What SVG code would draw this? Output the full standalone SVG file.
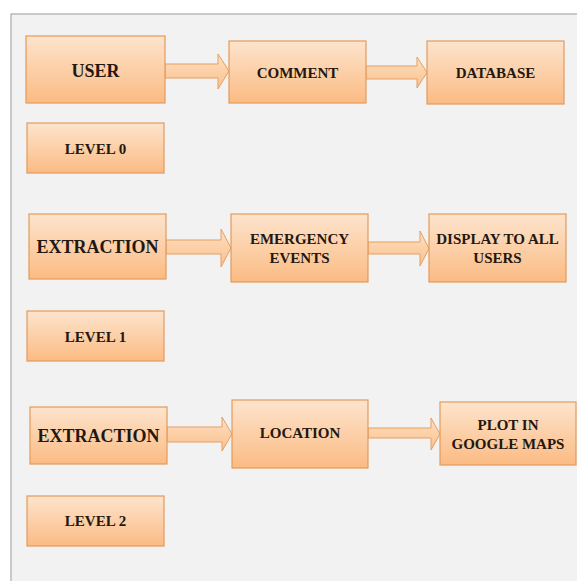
<svg xmlns="http://www.w3.org/2000/svg" width="577" height="581" viewBox="0 0 577 581">
<defs>
<linearGradient id="g" x1="0" y1="0" x2="0" y2="1">
<stop offset="0" stop-color="#fde4cd"/>
<stop offset="1" stop-color="#fbbb83"/>
</linearGradient>
<linearGradient id="ga" x1="0" y1="0" x2="0" y2="1">
<stop offset="0" stop-color="#fde0c3"/>
<stop offset="1" stop-color="#fbc08c"/>
</linearGradient>
<style>
.box{fill:url(#g);stroke:#e39a5a;stroke-width:1.2}
.arr{fill:url(#ga);stroke:#e59f62;stroke-width:1}
text{font-family:"Liberation Serif","Times New Roman",serif;font-weight:bold;fill:#231710;text-anchor:middle;font-size:15px}
.big{font-size:18px}
</style>
</defs>
<rect x="0" y="0" width="577" height="581" fill="#ffffff"/>
<rect x="11" y="14" width="570" height="570" fill="#f2f2f2" stroke="#aaaaaa" stroke-width="1.2"/>
<g id="connectors">
<path class="arr" d="M165,64 H218 V54 L229,71 L218,89 V78 H165 Z"/>
<path class="arr" d="M366,66 H417 V57 L427,72.5 L417,88 V79 H366 Z"/>
<path class="arr" d="M166,240 H221 V229 L231,248 L221,267 V254 H166 Z"/>
<path class="arr" d="M368,242 H420 V231 L429,248.5 L420,266 V254 H368 Z"/>
<path class="arr" d="M167,427 H222 V417 L232,434 L222,451 V442 H167 Z"/>
<path class="arr" d="M368,428 H431 V418 L440,434 L431,450 V438 H368 Z"/>
</g>
<g id="user"><rect class="box" x="26" y="36" width="139" height="67"/><text class="big" x="95.5" y="77">USER</text></g>
<g id="comment"><rect class="box" x="229" y="41" width="137" height="62"/><text x="297.5" y="77.5">COMMENT</text></g>
<g id="database"><rect class="box" x="427" y="41" width="137" height="63"/><text x="495.5" y="77.5">DATABASE</text></g>
<g id="level0"><rect class="box" x="27" y="123" width="137" height="50"/><text x="95.5" y="153.5">LEVEL 0</text></g>
<g id="extraction1"><rect class="box" x="29" y="214" width="137" height="65"/><text class="big" x="97.5" y="252.5">EXTRACTION</text></g>
<g id="emergency"><rect class="box" x="231" y="214" width="137" height="68"/><text x="299.5" y="244">EMERGENCY</text><text x="299.5" y="263">EVENTS</text></g>
<g id="display"><rect class="box" x="429" y="214" width="137" height="68"/><text x="497.5" y="244">DISPLAY TO ALL</text><text x="497.5" y="263">USERS</text></g>
<g id="level1"><rect class="box" x="27" y="311" width="137" height="50"/><text x="95.5" y="341.5">LEVEL 1</text></g>
<g id="extraction2"><rect class="box" x="30" y="407" width="137" height="57"/><text class="big" x="98.5" y="441.5">EXTRACTION</text></g>
<g id="location"><rect class="box" x="232" y="400" width="136" height="68"/><text x="300" y="438">LOCATION</text></g>
<g id="plot"><rect class="box" x="440" y="402" width="136" height="63"/><text x="508" y="430">PLOT IN</text><text x="508" y="449">GOOGLE MAPS</text></g>
<g id="level2"><rect class="box" x="27" y="496" width="137" height="50"/><text x="95.5" y="526">LEVEL 2</text></g>
</svg>
